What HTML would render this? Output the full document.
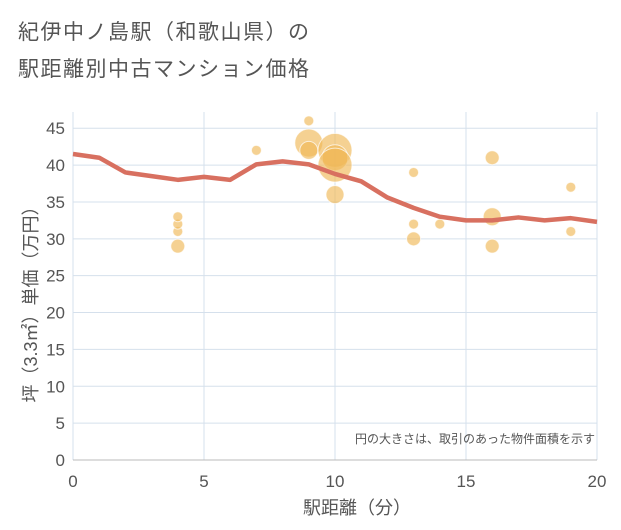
<!DOCTYPE html>
<html><head><meta charset="utf-8"><style>
body{margin:0;background:#fff;font-family:"Liberation Sans","Noto Sans CJK JP",sans-serif}
#wrap{position:relative;width:621px;height:530px;background:#fff}
.t{position:absolute;left:18px;color:#555;font-size:21px;letter-spacing:1.5px}
</style></head><body>
<div id="wrap">
<div class="t" style="top:16px">紀伊中ノ島駅（和歌山県）の</div>
<div class="t" style="top:53px">駅距離別中古マンション価格</div>
<svg id="svg" width="621" height="530" style="position:absolute;left:0;top:0"></svg>
</div>
<script>
const xTicks=[0,5,10,15,20];
const yTicks=[0,5,10,15,20,25,30,35,40,45];
const bubbleX=[4,4,4,4,7,9,9,9,10,10,10,10,13,13,13,14,16,16,16,19,19];
const bubbleY=[29,31,32,33,42,46,43,42,42,41,40,36,39,32,30,32,41,33,29,37,31];
const bubbleR=[7,5,5,5,5,5,14,9,17,13,17,9,5,5,7,5,7,9,7,5,5];
const lineX=[0,1,2,3,4,5,6,7,8,9,10,11,12,13,14,15,16,17,18,19,20];
const lineY=[41.5,41,39,38.5,38,38.4,38,40.1,40.5,40.1,38.8,37.8,35.6,34.2,33,32.5,32.5,32.9,32.5,32.8,32.3];
const L=73,R=597,T=112,B=460;
const sx=v=>L+(R-L)*v/20, sy=v=>B-(B-T)*v/47.2;
const s=document.getElementById('svg'),NS='http://www.w3.org/2000/svg';
function mk(tag,a,name,txt){const e=document.createElementNS(NS,tag);for(const k in a)e.setAttribute(k,a[k]);


if(txt!==undefined)e.textContent=txt;s.appendChild(e);return e;}
xTicks.forEach(v=>{mk('line',{x1:sx(v),x2:sx(v),y1:T,y2:B,stroke:'#d5e0ec','stroke-width':1},'x-grid');
mk('text',{x:sx(v),y:487,'text-anchor':'middle','font-size':17,fill:'#555'},'x-tick-label',v);});
yTicks.forEach(v=>{mk('line',{x1:L,x2:R,y1:sy(v),y2:sy(v),stroke:'#d5e0ec','stroke-width':1},'y-grid');
mk('text',{x:65,y:sy(v)+6,'text-anchor':'end','font-size':17,fill:'#555'},'y-tick-label',v);});
mk('line',{x1:L,x2:R,y1:B,y2:B,stroke:'#bbb'},'x-axis');
bubbleX.forEach((v,i)=>mk('circle',{cx:sx(v),cy:sy(bubbleY[i]),r:bubbleR[i],fill:'#f0b858','fill-opacity':0.65,stroke:'#fff','stroke-opacity':0.7},'bubble'));
mk('polyline',{points:lineX.map((v,i)=>sx(v)+','+sy(lineY[i])).join(' '),fill:'none',stroke:'#d87060','stroke-width':4.5,'stroke-linejoin':'round'},'average-line');
mk('text',{x:595,y:443,'text-anchor':'end','font-size':12,fill:'#555'},'note','円の大きさは、取引のあった物件面積を示す');
mk('text',{x:357,y:514,'text-anchor':'middle','font-size':18,fill:'#555'},'x-axis-title','駅距離（分）');
mk('text',{x:0,y:0,'text-anchor':'middle','font-size':18,fill:'#555',transform:'translate(37,300) rotate(-90)'},'y-axis-title','坪（3.3㎡）単価（万円）');
</script>
</body></html>
